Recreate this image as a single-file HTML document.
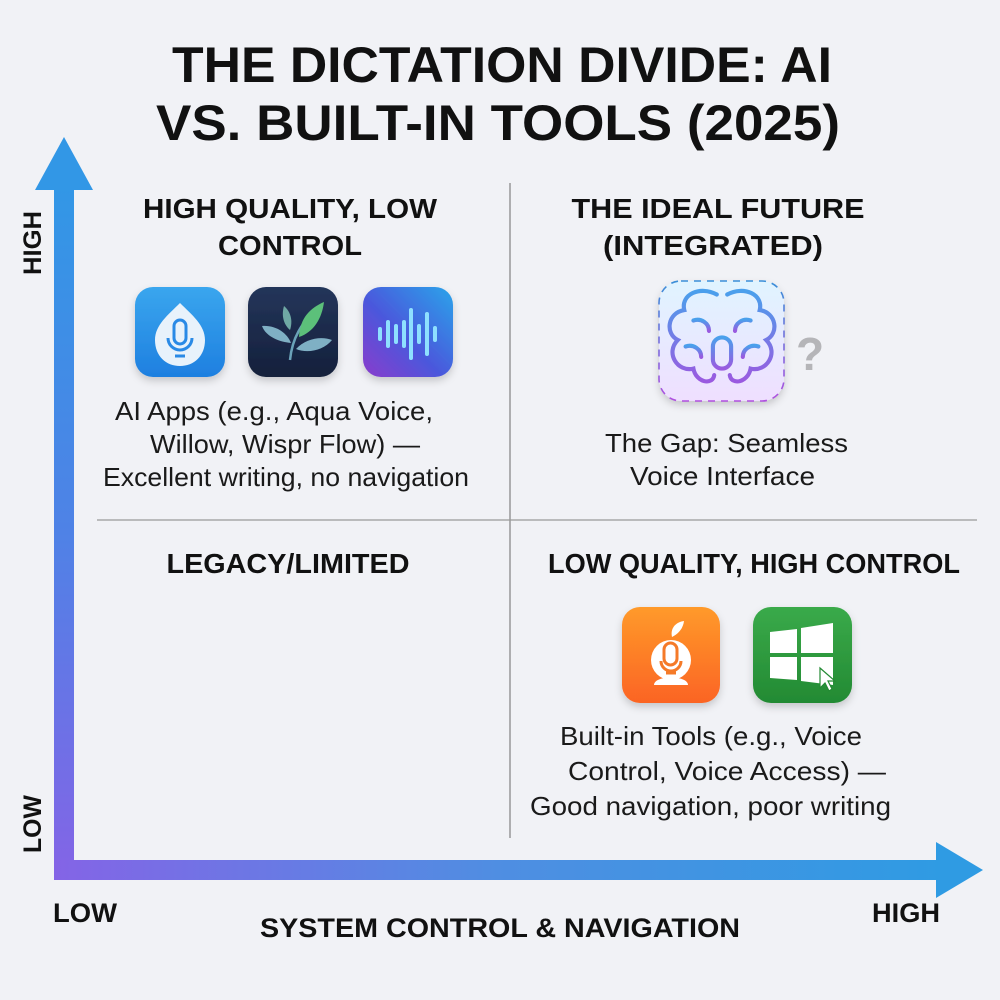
<!DOCTYPE html>
<html><head><meta charset="utf-8"><style>
html,body{margin:0;padding:0;background:#f1f2f6;}
svg{display:block}
text{font-family:"Liberation Sans",sans-serif;fill:#111;}
.h{font-weight:bold;font-size:28px}
.b{font-size:26px;fill:#1a1a1a}
</style></head><body>
<svg width="1000" height="1000" viewBox="0 0 1000 1000" xmlns="http://www.w3.org/2000/svg">
<defs>
<linearGradient id="vg" x1="0" y1="0" x2="0" y2="1"><stop offset="0" stop-color="#3297e6"/><stop offset="0.5" stop-color="#4f82e6"/><stop offset="1" stop-color="#8464e6"/></linearGradient>
<linearGradient id="hg" x1="0" y1="0" x2="1" y2="0"><stop offset="0" stop-color="#8464e6"/><stop offset="0.5" stop-color="#4f8ee2"/><stop offset="1" stop-color="#2f9be3"/></linearGradient>
<linearGradient id="g1" x1="0" y1="0" x2="0" y2="1"><stop offset="0" stop-color="#3aa6ee"/><stop offset="1" stop-color="#1e7fe0"/></linearGradient>
<linearGradient id="g2" x1="0" y1="0" x2="0" y2="1"><stop offset="0" stop-color="#24355a"/><stop offset="1" stop-color="#14203b"/></linearGradient>
<linearGradient id="g3" x1="1" y1="0" x2="0" y2="1"><stop offset="0" stop-color="#2aa4ea"/><stop offset="0.55" stop-color="#4a58dc"/><stop offset="1" stop-color="#8a3ccc"/></linearGradient>
<linearGradient id="g4" x1="0" y1="0" x2="0" y2="1"><stop offset="0" stop-color="#e0f4ff"/><stop offset="1" stop-color="#efdfff"/></linearGradient>
<linearGradient id="g4s" x1="0" y1="0" x2="0" y2="1"><stop offset="0" stop-color="#3a8fd8"/><stop offset="1" stop-color="#b04fe0"/></linearGradient>
<linearGradient id="br" x1="0" y1="0" x2="0" y2="1"><stop offset="0" stop-color="#4aa0ec"/><stop offset="1" stop-color="#9a5ae0"/></linearGradient>
<linearGradient id="g5" x1="0" y1="0" x2="0" y2="1"><stop offset="0" stop-color="#ff9a2a"/><stop offset="1" stop-color="#fb6424"/></linearGradient>
<linearGradient id="g6" x1="0" y1="0" x2="0" y2="1"><stop offset="0" stop-color="#3aaa4a"/><stop offset="1" stop-color="#238a33"/></linearGradient>
<filter id="sh" x="-20%" y="-20%" width="140%" height="150%"><feDropShadow dx="0" dy="4" stdDeviation="4" flood-color="#000" flood-opacity="0.18"/></filter>
</defs>

<text x="502" y="82" text-anchor="middle" font-weight="bold" font-size="50" textLength="660" lengthAdjust="spacingAndGlyphs">THE DICTATION DIVIDE: AI</text>
<text x="498" y="140" text-anchor="middle" font-weight="bold" font-size="50" textLength="684" lengthAdjust="spacingAndGlyphs">VS. BUILT-IN TOOLS (2025)</text>

<line x1="510" y1="183" x2="510" y2="838" stroke="#8a8a8a" stroke-width="1.3"/>
<line x1="97" y1="520" x2="977" y2="520" stroke="#9a9a9a" stroke-width="1.3"/>

<rect x="54" y="186" width="20" height="694" fill="url(#vg)"/>
<polygon points="64,137 35,190 93,190" fill="#3297e6"/>
<rect x="54" y="860" width="886" height="20" fill="url(#hg)"/>
<polygon points="983,870 936,842 936,898" fill="#2f9be3"/>

<text transform="translate(41,243) rotate(-90)" text-anchor="middle" font-weight="bold" font-size="25" textLength="64" lengthAdjust="spacingAndGlyphs">HIGH</text>
<text transform="translate(41,824) rotate(-90)" text-anchor="middle" font-weight="bold" font-size="25" textLength="58" lengthAdjust="spacingAndGlyphs">LOW</text>
<text x="53" y="922" font-weight="bold" font-size="27" textLength="64" lengthAdjust="spacingAndGlyphs">LOW</text>
<text x="872" y="922" font-weight="bold" font-size="27" textLength="68" lengthAdjust="spacingAndGlyphs">HIGH</text>
<text x="500" y="937" text-anchor="middle" font-weight="bold" font-size="27" textLength="480" lengthAdjust="spacingAndGlyphs">SYSTEM CONTROL &amp; NAVIGATION</text>

<text class="h" x="290" y="218" text-anchor="middle" textLength="294" lengthAdjust="spacingAndGlyphs">HIGH QUALITY, LOW</text>
<text class="h" x="290" y="255" text-anchor="middle" textLength="144" lengthAdjust="spacingAndGlyphs">CONTROL</text>
<text class="h" x="718" y="218" text-anchor="middle" textLength="293" lengthAdjust="spacingAndGlyphs">THE IDEAL FUTURE</text>
<text class="h" x="713" y="255" text-anchor="middle" textLength="220" lengthAdjust="spacingAndGlyphs">(INTEGRATED)</text>
<text class="h" x="288" y="573" text-anchor="middle" textLength="243" lengthAdjust="spacingAndGlyphs">LEGACY/LIMITED</text>
<text class="h" x="754" y="573" text-anchor="middle" textLength="412" lengthAdjust="spacingAndGlyphs">LOW QUALITY, HIGH CONTROL</text>

<text class="b" x="115" y="420" textLength="318" lengthAdjust="spacingAndGlyphs">AI Apps (e.g., Aqua Voice,</text>
<text class="b" x="150" y="453" textLength="270" lengthAdjust="spacingAndGlyphs">Willow, Wispr Flow) —</text>
<text class="b" x="103" y="486" textLength="366" lengthAdjust="spacingAndGlyphs">Excellent writing, no navigation</text>
<text class="b" x="605" y="452" textLength="243" lengthAdjust="spacingAndGlyphs">The Gap: Seamless</text>
<text class="b" x="630" y="485" textLength="185" lengthAdjust="spacingAndGlyphs">Voice Interface</text>
<text class="b" x="560" y="745" textLength="302" lengthAdjust="spacingAndGlyphs">Built-in Tools (e.g., Voice</text>
<text class="b" x="568" y="780" textLength="318" lengthAdjust="spacingAndGlyphs">Control, Voice Access) —</text>
<text class="b" x="530" y="815" textLength="361" lengthAdjust="spacingAndGlyphs">Good navigation, poor writing</text>

<g filter="url(#sh)"><rect x="135" y="287" width="90" height="90" rx="18" fill="url(#g1)"/></g>
<path d="M180,303 C168,315 155,325 155,340 C155,356 166,366 180,366 C194,366 205,356 205,340 C205,325 192,315 180,303Z" fill="#e8f2fb"/>
<rect x="174" y="320" width="12" height="24" rx="6" fill="none" stroke="#2a8ae6" stroke-width="3"/>
<path d="M168,338 a12,12 0 0 0 24,0" fill="none" stroke="#2a8ae6" stroke-width="3"/>
<line x1="175" y1="356" x2="185" y2="356" stroke="#2a8ae6" stroke-width="3"/>

<g filter="url(#sh)"><rect x="248" y="287" width="90" height="90" rx="18" fill="url(#g2)"/></g>
<path d="M290,360 C292,340 300,322 322,305" fill="none" stroke="#6aa2b8" stroke-width="2.5"/>
<path d="M299,337 C300,318 310,308 324,302 C322,318 314,332 299,337Z" fill="#5cc07a"/>
<path d="M291,343 C280,342 266,337 262,326 C276,325 287,333 291,343Z" fill="#7fb0c4"/>
<path d="M296,349 C306,338 322,336 332,340 C324,350 308,354 296,349Z" fill="#7fb0c4"/>
<path d="M290,330 C284,325 281,316 284,306 C291,312 293,321 290,330Z" fill="#6fa8a4"/>

<g filter="url(#sh)"><rect x="363" y="287" width="90" height="90" rx="18" fill="url(#g3)"/></g>
<g stroke="#8ee0ff" stroke-width="4" stroke-linecap="round">
<line x1="380" y1="329" x2="380" y2="339"/><line x1="388" y1="322" x2="388" y2="346"/><line x1="396" y1="326" x2="396" y2="342"/>
<line x1="404" y1="322" x2="404" y2="346"/><line x1="411" y1="310" x2="411" y2="358"/><line x1="419" y1="326" x2="419" y2="342"/>
<line x1="427" y1="314" x2="427" y2="354"/><line x1="435" y1="328" x2="435" y2="340"/></g>

<g filter="url(#sh)"><rect x="659" y="281" width="125" height="120" rx="22" fill="url(#g4)"/></g>
<rect x="659" y="281" width="125" height="120" rx="22" fill="none" stroke="url(#g4s)" stroke-width="1.6" stroke-dasharray="7,6"/>
<g fill="none" stroke="url(#br)" stroke-width="3.2" stroke-linecap="round" transform="translate(722,340) scale(1.3) translate(-722,-335)">
<path d="M718,300 C705,293 690,300 693,312 C680,314 678,330 688,335 C678,345 688,360 700,357 C702,368 715,370 716,362"/>
<path d="M726,300 C739,293 754,300 751,312 C764,314 766,330 756,335 C766,345 756,360 744,357 C742,368 729,370 728,362"/>
<path d="M700,320 C706,318 712,322 712,328"/><path d="M744,320 C738,318 732,322 732,328"/>
<path d="M694,340 C700,338 706,342 706,348"/><path d="M750,340 C744,338 738,342 738,348"/>
<rect x="715" y="333" width="14" height="24" rx="7"/>
<line x1="722" y1="357" x2="722" y2="368"/><line x1="713" y1="368" x2="731" y2="368"/>
</g>
<text x="810" y="370" text-anchor="middle" font-weight="bold" font-size="46" style="fill:#b5b5b8">?</text>

<g filter="url(#sh)"><rect x="622" y="607" width="98" height="96" rx="18" fill="url(#g5)"/></g>
<path d="M672,637 C670,628 676,622 684,621 C683,629 678,634 672,637Z" fill="#fff"/>
<circle cx="671" cy="660" r="20" fill="#fff"/>
<path d="M654,685 C654,675 688,675 688,685 Z" fill="#fff"/>
<rect x="664" y="643" width="13" height="22" rx="6.5" fill="none" stroke="#f57a28" stroke-width="3"/>
<path d="M661,661 a10,10 0 0 0 20,0" fill="none" stroke="#f57a28" stroke-width="3"/>
<line x1="666" y1="673" x2="676" y2="673" stroke="#f57a28" stroke-width="3"/>

<g filter="url(#sh)"><rect x="753" y="607" width="99" height="96" rx="18" fill="url(#g6)"/></g>
<polygon points="770,632 797,629 797,653 770,653" fill="#fff"/>
<polygon points="801,628 833,623 833,653 801,653" fill="#fff"/>
<polygon points="770,657 797,657 797,680 770,678" fill="#fff"/>
<polygon points="801,657 833,657 833,685 801,681" fill="#fff"/>
<path d="M820,668 L820,688 L825,683 L829,691 L832,689 L828,681 L835,681 Z" fill="#fff" stroke="#238a33" stroke-width="1.2"/>
</svg>
</body></html>
